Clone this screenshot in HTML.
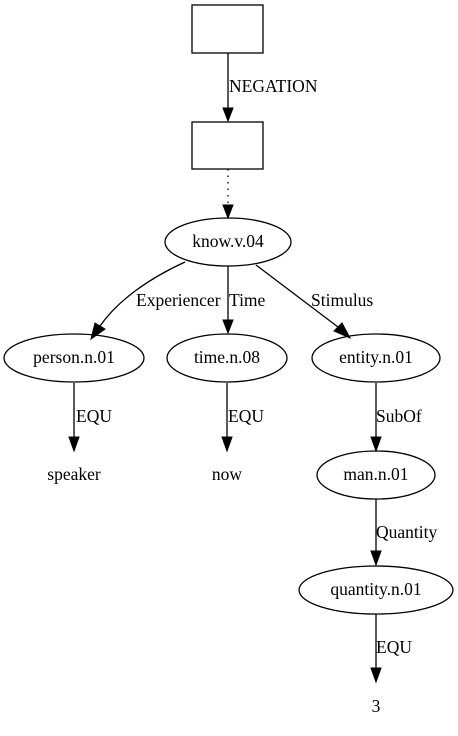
<!DOCTYPE html>
<html><head><style>
html,body{margin:0;padding:0;background:#fff;width:458px;height:736px;overflow:hidden}
text{font-family:"Liberation Serif","Times New Roman",serif;font-size:17.5px;fill:#000}
</style></head><body>
<svg width="458" height="736" viewBox="0 0 458 736" xmlns="http://www.w3.org/2000/svg">
<g fill="none" stroke="#000" stroke-width="1.3">
<rect x="192" y="5" width="71" height="48"/>
<rect x="192" y="122" width="71" height="47"/>
<ellipse cx="228" cy="242" rx="63" ry="24"/>
<ellipse cx="74" cy="358" rx="70" ry="24"/>
<ellipse cx="227" cy="358" rx="60" ry="24"/>
<ellipse cx="376" cy="358" rx="64" ry="24"/>
<ellipse cx="376" cy="475" rx="59" ry="24"/>
<ellipse cx="376" cy="590" rx="77" ry="24"/>
<line x1="228" y1="53" x2="228" y2="108"/>
<line x1="228" y1="169" x2="228" y2="204" stroke-dasharray="1.5,5"/>
<path d="M185,262 C150,278 118,300 100,326"/>
<line x1="228" y1="266" x2="228" y2="320"/>
<path d="M256,265 L338,327"/>
<line x1="74" y1="383" x2="74" y2="437"/>
<line x1="227" y1="383" x2="227" y2="437"/>
<line x1="376" y1="383" x2="376" y2="437"/>
<line x1="376" y1="499" x2="376" y2="551"/>
<line x1="376" y1="614" x2="376" y2="668"/>
</g>
<g fill="#000" stroke="#000">
<polygon points="223,108 233,108 228,121"/>
<polygon points="223,205 233,205 228,218"/>
<polygon points="95,323 105,329 91,339"/>
<polygon points="223,320 233,320 228,333"/>
<polygon points="334,331 342,323 350,338"/>
<polygon points="69,437 79,437 74,451"/>
<polygon points="222,437 232,437 227,451"/>
<polygon points="371,437 381,437 376,451"/>
<polygon points="371,551 381,551 376,565"/>
<polygon points="371,668 381,668 376,682"/>
</g>
<g>
<text x="229" y="92">NEGATION</text>
<text x="228" y="247" text-anchor="middle">know.v.04</text>
<text x="74" y="363" text-anchor="middle">person.n.01</text>
<text x="227" y="363" text-anchor="middle">time.n.08</text>
<text x="376" y="363" text-anchor="middle">entity.n.01</text>
<text x="376" y="480" text-anchor="middle">man.n.01</text>
<text x="376" y="595" text-anchor="middle">quantity.n.01</text>
<text x="136" y="306">Experiencer</text>
<text x="229" y="306">Time</text>
<text x="311" y="306">Stimulus</text>
<text x="76" y="422">EQU</text>
<text x="228" y="422">EQU</text>
<text x="376" y="422">SubOf</text>
<text x="376" y="538">Quantity</text>
<text x="376" y="653">EQU</text>
<text x="74" y="480" text-anchor="middle">speaker</text>
<text x="227" y="480" text-anchor="middle">now</text>
<text x="376" y="712" text-anchor="middle">3</text>
</g>
</svg>
</body></html>
